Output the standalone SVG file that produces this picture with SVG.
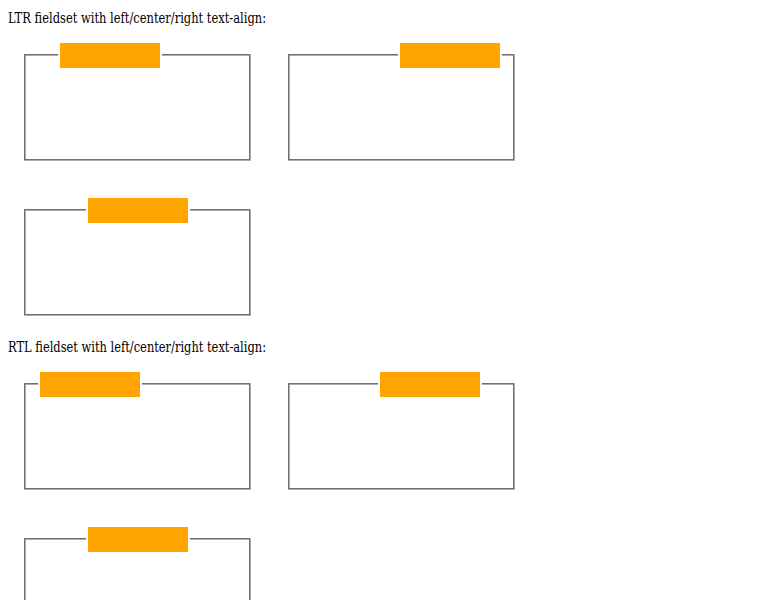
<svg xmlns="http://www.w3.org/2000/svg" width="781" height="600" viewBox="0 0 781 600">
<style>
.t{font-family:"DejaVu Serif","Liberation Serif",serif;font-size:14px;font-stretch:condensed;fill:#000}
.d{stroke:#707070;stroke-width:1;fill:none}
.l{stroke:#acacac;stroke-width:1;fill:none}
.lg{fill:#ffa500}
</style>
<rect width="781" height="600" fill="#fff"/>
<text class="t" x="8" y="23" textLength="258" lengthAdjust="spacingAndGlyphs">LTR fieldset with left/center/right text-align:</text>
<text class="t" x="8" y="352" textLength="258" lengthAdjust="spacingAndGlyphs">RTL fieldset with left/center/right text-align:</text>

<g id="fs1">
<path class="d" d="M24,54.5H58M162,54.5H250M24.5,54V161M25,159.5H250M249.5,55V160"/>
<path class="l" d="M25,55.5H58M162,55.5H249M25.5,56V159M24,160.5H251M250.5,54V161"/>
<rect class="lg" x="60" y="43" width="100" height="25"/>
</g>
<g id="fs2">
<path class="d" d="M288,54.5H398M502,54.5H514M288.5,54V161M289,159.5H514M513.5,55V160"/>
<path class="l" d="M289,55.5H398M502,55.5H513M289.5,56V159M288,160.5H515M514.5,54V161"/>
<rect class="lg" x="400" y="43" width="100" height="25"/>
</g>
<g id="fs3">
<path class="d" d="M24,209.5H86M190,209.5H250M24.5,209V316M25,314.5H250M249.5,210V315"/>
<path class="l" d="M25,210.5H86M190,210.5H249M25.5,211V314M24,315.5H251M250.5,209V316"/>
<rect class="lg" x="88" y="198" width="100" height="25"/>
</g>
<g id="fs4">
<path class="d" d="M24,383.5H38M142,383.5H250M24.5,383V490M25,488.5H250M249.5,384V489"/>
<path class="l" d="M25,384.5H38M142,384.5H249M25.5,385V488M24,489.5H251M250.5,383V490"/>
<rect class="lg" x="40" y="372" width="100" height="25"/>
</g>
<g id="fs5">
<path class="d" d="M288,383.5H378M482,383.5H514M288.5,383V490M289,488.5H514M513.5,384V489"/>
<path class="l" d="M289,384.5H378M482,384.5H513M289.5,385V488M288,489.5H515M514.5,383V490"/>
<rect class="lg" x="380" y="372" width="100" height="25"/>
</g>
<g id="fs6">
<path class="d" d="M24,538.5H86M190,538.5H250M24.5,538V645M249.5,539V644"/>
<path class="l" d="M25,539.5H86M190,539.5H249M25.5,540V643M250.5,538V645"/>
<rect class="lg" x="88" y="527" width="100" height="25"/>
</g>
<g id="connectors"/>
</svg>
